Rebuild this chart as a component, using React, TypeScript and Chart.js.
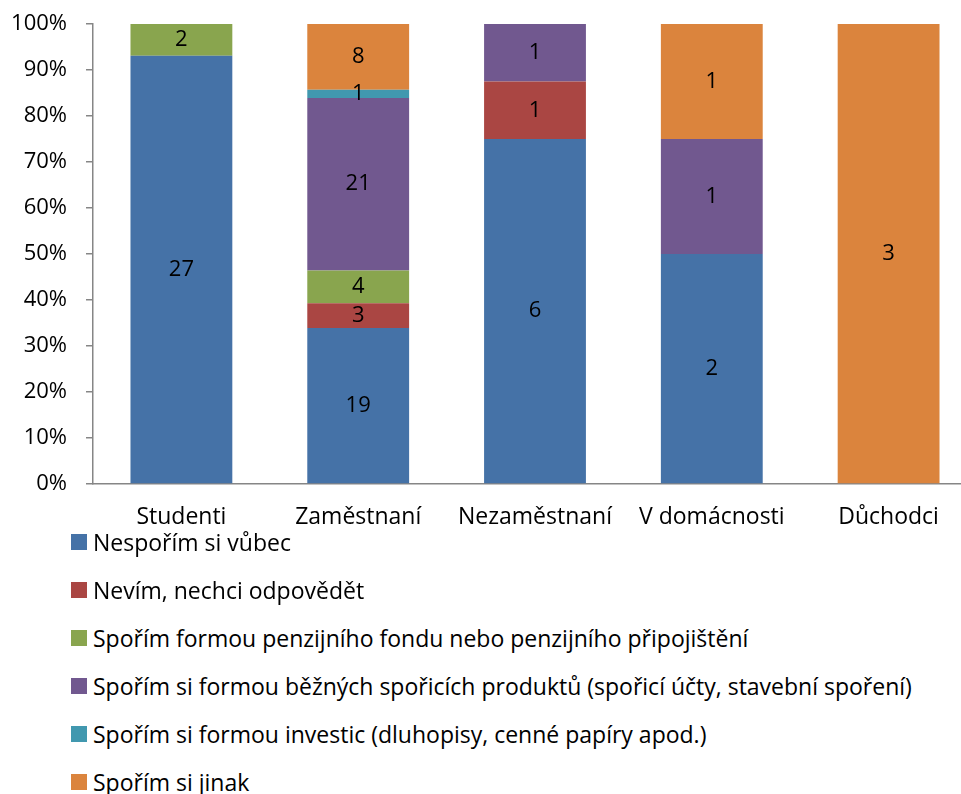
import React, { useEffect, useRef } from "react";
import { Chart, registerables } from "chart.js";

Chart.register(...registerables);

const categories = ["Studenti", "Zaměstnaní", "Nezaměstnaní", "V domácnosti", "Důchodci"];
const seriesNames = [
  "Nespořím si vůbec",
  "Nevím, nechci odpovědět",
  "Spořím formou penzijního fondu nebo penzijního připojištění",
  "Spořím si formou běžných spořicích produktů (spořicí účty, stavební spoření)",
  "Spořím si formou investic (dluhopisy, cenné papíry apod.)",
  "Spořím si jinak",
];
const nesporim = [27, 19, 6, 2, 0];
const nevim = [0, 3, 1, 0, 0];
const penzijni = [2, 4, 0, 0, 0];
const bezne = [0, 21, 1, 1, 0];
const investice = [0, 1, 0, 0, 0];
const jinak = [0, 8, 0, 1, 3];
const colors = ["#4572A7", "#AA4643", "#89A54E", "#71588F", "#4198AF", "#DB843D"];
const yTicks = [0, 10, 20, 30, 40, 50, 60, 70, 80, 90, 100];

const FONT = "'Open Sans', sans-serif";
const FS = 23;
const FS_Y = 22;

export default function App() {
  const ref = useRef<HTMLCanvasElement | null>(null);

  useEffect(() => {
    document.body.style.margin = "0";
    document.body.style.overflow = "hidden";
    const counts = [nesporim, nevim, penzijni, bezne, investice, jinak];
    const totals = categories.map((_, i) => counts.reduce((s, a) => s + a[i], 0));
    const datasets = counts.map((arr, k) => ({
      label: seriesNames[k],
      data: arr.map((v, i) => (v / totals[i]) * 100),
      counts: arr,
      backgroundColor: colors[k],
      borderWidth: 0,
      barPercentage: 0.576,
      categoryPercentage: 1,
    }));

    const labelPlugin = {
      id: "segLabels",
      afterDatasetsDraw(chart: any) {
        const ctx = chart.ctx;
        ctx.save();
        ctx.font = `${FS_Y}px ${FONT}`;
        ctx.fillStyle = "#000";
        ctx.textAlign = "center";
        ctx.textBaseline = "middle";
        chart.data.datasets.forEach((ds: any, di: number) => {
          const meta = chart.getDatasetMeta(di);
          meta.data.forEach((bar: any, i: number) => {
            const c = ds.counts[i];
            if (!c) return;
            const y = (bar.y + bar.base) / 2;
            ctx.fillText(String(c), bar.x, y);
          });
        });
        ctx.restore();
      },
    };

    const chart = new Chart(ref.current as HTMLCanvasElement, {
      type: "bar",
      data: { labels: categories, datasets: datasets as any },
      plugins: [labelPlugin],
      options: {
        animation: false,
        responsive: false,
        maintainAspectRatio: false,
        layout: { padding: { top: 24, right: 0, left: 0, bottom: 0 } },
        plugins: { legend: { display: false }, tooltip: { enabled: false } },
        scales: {
          x: {
            stacked: true,
            grid: { display: false, drawTicks: false },
            border: { display: true, color: "#868686", width: 1.5 },
            ticks: { color: "#000", font: { family: FONT, size: FS, lineHeight: 1 }, padding: 22, maxRotation: 0, autoSkip: false },
            afterFit(scale: any) {
              scale.height = 56;
            },
          },
          y: {
            stacked: true,
            min: 0,
            max: 100,
            afterBuildTicks(scale: any) {
              scale.ticks = yTicks.map((v) => ({ value: v }));
            },
            grid: { display: true, drawOnChartArea: false, drawTicks: true, tickLength: 7, color: "#868686", lineWidth: 1.5 },
            border: { display: true, color: "#868686", width: 1.5 },
            ticks: {
              color: "#000",
              font: { family: FONT, size: FS_Y, lineHeight: 1 },
              padding: 19,
              callback: (v: any) => `${v}%`,
            },
            afterFit(scale: any) {
              scale.width = 93;
              scale.paddingTop = 0;
              scale.paddingBottom = 0;
            },
          },
        },
      },
    });
    return () => chart.destroy();
  }, []);

  return (
    <div style={{ position: "relative", width: 961, height: 794, overflow: "hidden", fontFamily: FONT }}>
      <canvas ref={ref} width={977} height={540} style={{ position: "absolute", left: 0, top: 0 }} />
      {seriesNames.map((name, i) => (
        <div
          key={name}
          style={{
            position: "absolute",
            left: 71,
            top: 542 + 48 * i - 16,
            height: 32,
            display: "flex",
            alignItems: "center",
            whiteSpace: "nowrap",
            fontSize: FS,
            color: "#000",
          }}
        >
          <span style={{ display: "inline-block", width: 16, height: 16, background: colors[i], marginRight: 6 }} />
          <span>{name}</span>
        </div>
      ))}
    </div>
  );
}
